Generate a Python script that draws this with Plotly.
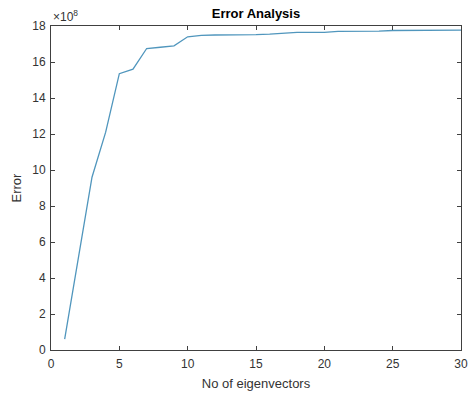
import plotly.graph_objects as go

num_eigenvectors = list(range(1, 31))
error_e8 = [0.6, 5.2, 9.6, 12.1, 15.35, 15.6, 16.75, 16.82, 16.9, 17.4,
            17.48, 17.5, 17.5, 17.5, 17.52, 17.55, 17.62, 17.65, 17.65, 17.65,
            17.7, 17.7, 17.72, 17.72, 17.75, 17.75, 17.75, 17.76, 17.76, 17.77]
x_ticks = [0, 5, 10, 15, 20, 25, 30]
y_ticks = [0, 2, 4, 6, 8, 10, 12, 14, 16, 18]

font = "Liberation Sans, Arial, sans-serif"
axis_col = "#404040"
text_col = "#333333"

fig = go.Figure()
fig.add_trace(go.Scatter(x=num_eigenvectors, y=error_e8, mode="lines",
                         line=dict(color="#5096bd", width=1.3),
                         showlegend=False))

common = dict(showgrid=False, zeroline=False, showline=True, mirror="ticks",
              linecolor=axis_col, linewidth=1, ticks="inside", ticklen=4,
              tickcolor=axis_col, automargin=False,
              tickfont=dict(family=font, size=12, color=text_col))

fig.update_xaxes(range=[0, 30], tickvals=x_ticks, **common, ticklabelstandoff=3,
                 title=dict(text="No of eigenvectors", font=dict(family=font, size=13, color=text_col), standoff=8))
fig.update_yaxes(range=[0, 18], tickvals=y_ticks, **common, ticklabelstandoff=2,
                 title=dict(text="Error", font=dict(family=font, size=13, color=text_col), standoff=7))

fig.add_annotation(x=0, y=1, xref="paper", yref="paper", xanchor="left", yanchor="bottom",
                   text="×10<sup>8</sup>", showarrow=False, yshift=0,
                   font=dict(family=font, size=12, color=text_col))

fig.update_layout(
    width=468, height=393,
    margin=dict(l=51, r=7, t=26, b=43),
    paper_bgcolor="white", plot_bgcolor="white",
    title=dict(text="<b>Error Analysis</b>", x=0.5, xref="paper", xanchor="center",
               y=1, yref="paper", yanchor="bottom", pad=dict(b=8),
               font=dict(family=font, size=13, color="black")),
)

fig.write_html("out.html", config={"displayModeBar": False},
               post_script="document.body.style.margin='0';document.body.style.overflow='hidden';")
